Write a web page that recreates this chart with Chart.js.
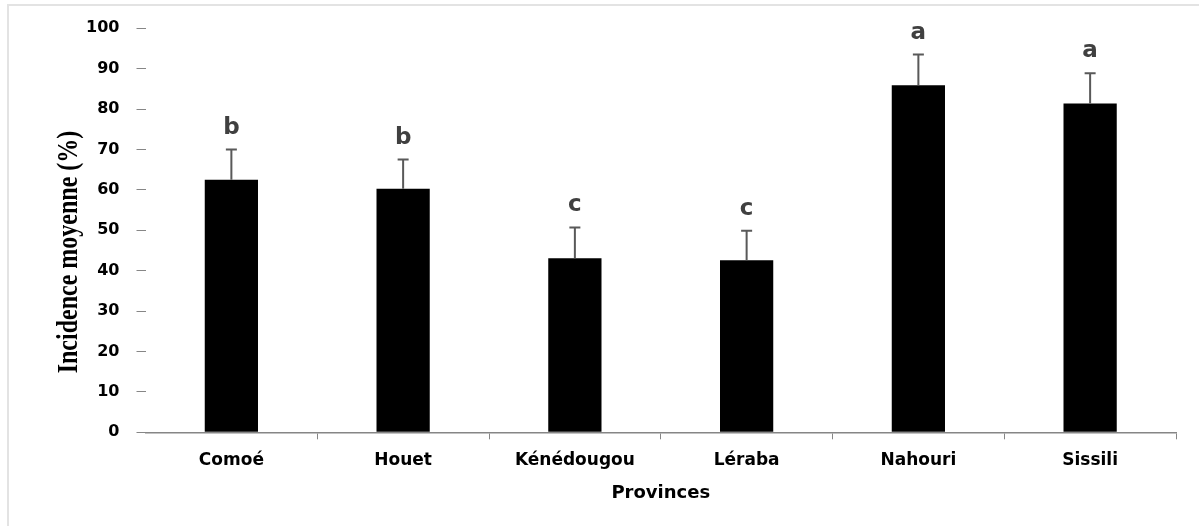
<!DOCTYPE html>
<html>
<head>
<meta charset="utf-8">
<script src="https://cdn.jsdelivr.net/npm/chart.js@4/dist/chart.umd.min.js"></script>
<style>
  html, body { margin:0; padding:0; background:#fff; }
  #wrap { width:1199px; height:526px; position:relative; }
</style>
</head>
<body>
<div id="wrap"><canvas id="chart" width="1199" height="526"></canvas></div>
<script>
// Data
const provinces = ['Comoé', 'Houet', 'Kénédougou', 'Léraba', 'Nahouri', 'Sissili'];
const meanIncidence = [62.5, 60.3, 43.1, 42.6, 85.9, 81.4];
const errUpper = [7.5, 7.2, 7.6, 7.3, 7.6, 7.5];
const groupLetters = ['b', 'b', 'c', 'c', 'a', 'a'];
const yTicks = [0, 10, 20, 30, 40, 50, 60, 70, 80, 90, 100];

const tickFont = 'DejaVu Sans';

// frame, error bars, letters and the y title
const extras = {
  id: 'extras',
  beforeDraw(chart){
    const ctx = chart.ctx;
    ctx.save();
    ctx.fillStyle = '#e3e3e3';
    ctx.fillRect(7, 4, chart.width - 7, 2);
    ctx.fillRect(7, 4, 2, chart.height - 4);
    ctx.restore();
  },
  afterDatasetsDraw(chart){
    const ctx = chart.ctx;
    const x = chart.scales.x, y = chart.scales.y;
    ctx.save();
    ctx.strokeStyle = '#595959';
    ctx.lineWidth = 2;
    meanIncidence.forEach((v, i) => {
      const cx = x.getPixelForValue(i);
      const y0 = y.getPixelForValue(v);
      const y1 = y.getPixelForValue(v + errUpper[i]);
      ctx.beginPath();
      ctx.moveTo(cx, y0); ctx.lineTo(cx, y1);
      ctx.moveTo(cx - 5.5, y1); ctx.lineTo(cx + 5.5, y1);
      ctx.stroke();
      ctx.fillStyle = '#404040';
      ctx.font = 'bold 23px ' + tickFont;
      ctx.textAlign = 'center';
      ctx.textBaseline = 'alphabetic';
      ctx.fillText(groupLetters[i], cx, y1 - 16);
    });
    ctx.translate(69, 252);
    ctx.rotate(-Math.PI / 2);
    ctx.scale(1, 1.22);
    ctx.fillStyle = '#000';
    ctx.font = 'bold 24px "Liberation Serif"';
    ctx.textAlign = 'center';
    ctx.textBaseline = 'middle';
    ctx.fillText('Incidence moyenne (%)', 0, 0);
    ctx.restore();
  }
};

new Chart(document.getElementById('chart'), {
  type: 'bar',
  data: {
    labels: provinces,
    datasets: [{
      data: meanIncidence,
      backgroundColor: '#000',
      barPercentage: 0.31,
      categoryPercentage: 1
    }]
  },
  options: {
    responsive: false,
    animation: false,
    layout: { padding: { top: 28.3, right: 23, left: 0, bottom: 0 } },
    plugins: { legend: { display: false }, tooltip: { enabled: false } },
    scales: {
      x: {
        afterFit: s => { s.height = 93.7; },
        grid: {
          drawOnChartArea: false,
          tickLength: 7,
          color: c => c.index === 0 ? 'rgba(0,0,0,0)' : '#868686'
        },
        border: { color: '#868686', width: 1.5 },
        ticks: { color: '#000', font: { family: tickFont, weight: 'bold', size: 17 }, padding: 11 },
        title: {
          display: true, text: 'Provinces', color: '#000',
          font: { family: tickFont, weight: 'bold', size: 18 },
          padding: { top: 0, bottom: 22 }
        }
      },
      y: {
        min: 0, max: 100,
        afterFit: s => { s.width = 145.5; },
        afterBuildTicks: s => { s.ticks = yTicks.map(v => ({ value: v })); },
        grid: { drawOnChartArea: false, tickLength: 9, color: '#868686' },
        border: { display: false },
        ticks: { color: '#000', font: { family: tickFont, weight: 'bold', size: 16 }, padding: 17 }
      }
    }
  },
  plugins: [extras]
});
</script>
</body>
</html>
